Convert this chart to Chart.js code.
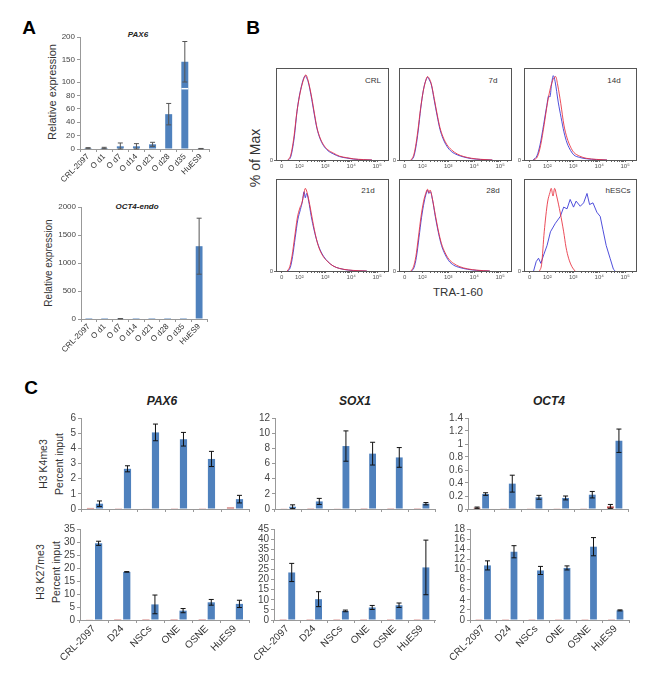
<!DOCTYPE html>
<html><head><meta charset="utf-8">
<script src="https://cdn.jsdelivr.net/npm/chart.js@4.4.0/dist/chart.umd.min.js"></script>
<style>
body{margin:0;background:#fff;width:666px;height:673px;position:relative;overflow:hidden;font-family:'Liberation Sans',Arial,sans-serif;}
.c{position:absolute;}
.t{position:absolute;white-space:nowrap;transform:translate(-50%,-50%);color:#222;line-height:1;}
.r{transform:translate(-50%,-50%) rotate(-90deg);}
.bi{font-weight:bold;font-style:italic;}
.L{font-weight:bold;font-size:19px;color:#000;}
</style></head><body>
<div class="t L" style="left:29px;top:27px">A</div>
<div class="t L" style="left:253px;top:27px">B</div>
<div class="t L" style="left:31px;top:387px">C</div>

<div class="t bi" style="left:138px;top:35px;font-size:8px">PAX6</div>
<div class="t bi" style="left:137px;top:207px;font-size:8px">OCT4-endo</div>
<div class="t r" style="left:52px;top:92px;font-size:11px;color:#333">Relative expression</div>
<div class="t r" style="left:49px;top:263px;font-size:10px;color:#333">Relative expression</div>

<div class="t r" style="left:255px;top:158px;font-size:14px;color:#333">% of Max</div>
<div class="t" style="left:458px;top:293px;font-size:11.5px;color:#333">TRA-1-60</div>
<div class="t" style="left:373px;top:81px;font-size:8px;color:#333">CRL</div>
<div class="t" style="left:493px;top:81px;font-size:8px;color:#333">7d</div>
<div class="t" style="left:614px;top:81px;font-size:8px;color:#333">14d</div>
<div class="t" style="left:368px;top:191px;font-size:8px;color:#333">21d</div>
<div class="t" style="left:493px;top:191px;font-size:8px;color:#333">28d</div>
<div class="t" style="left:618px;top:191px;font-size:8px;color:#333">hESCs</div>

<div class="t bi" style="left:162px;top:401px;font-size:12px">PAX6</div>
<div class="t bi" style="left:355px;top:401px;font-size:12px">SOX1</div>
<div class="t bi" style="left:549px;top:401px;font-size:12px">OCT4</div>
<div class="t r" style="left:43px;top:464px;font-size:10.5px;color:#333">H3 K4me3</div>
<div class="t r" style="left:59px;top:464px;font-size:10.5px;color:#333">Percent input</div>
<div class="t r" style="left:40px;top:572px;font-size:10.5px;color:#333">H3 K27me3</div>
<div class="t r" style="left:56px;top:572px;font-size:10.5px;color:#333">Percent input</div>

<script>
// ---------- Panel A data ----------
const aCategories = ['CRL-2097','O d1','O d7','O d14','O d21','O d28','O d35','HuES9'];
const aPax6Values = [1.5, 1.5, 4, 4, 7, 52, 145, 0.5];
const aPax6Errors = [0.5, 1, 5, 4, 3, 16, 45, 0.3];
const aPax6Ticks  = [0, 20, 40, 60, 80, 100, 150, 200];
const aOct4Values = [1, 1, 5, 1, 1, 1, 1, 1300];
const aOct4Errors = [0, 0, 3, 0, 0, 0, 0, 500];
const aOct4Ticks  = [0, 500, 1000, 1500, 2000];

// ---------- Panel B data (x = position in decades, y = % of max) ----------
const flowTickLabels = ['0','10²','10³','10⁴','10⁵'];
const flowTickPos = [1.32, 2, 3, 4, 5];
const crlRed  = [[1.55,0],[1.65,4],[1.72,13],[1.8,29],[1.9,55],[2.0,74],[2.1,88],[2.18,96],[2.25,100],[2.34,93],[2.48,73],[2.58,55],[2.68,38],[2.8,26],[2.93,18],[3.1,12],[3.32,8],[3.55,4.5],[3.83,2.7],[4.1,1.3],[4.47,0.5],[4.8,0]];
const crlBlue = [[1.57,0],[1.66,3],[1.73,12],[1.81,28],[1.91,57],[2.0,75],[2.1,89],[2.18,97],[2.24,99],[2.27,97],[2.34,92],[2.48,71],[2.58,53],[2.68,37],[2.8,25],[2.93,17],[3.1,11],[3.32,7],[3.55,4],[3.83,2.3],[4.1,1],[4.47,0.3],[4.8,0]];
const d7Red   = [[1.56,0],[1.66,5],[1.74,16],[1.83,35],[1.93,60],[2.03,80],[2.12,92],[2.2,98],[2.26,96],[2.34,90],[2.46,72],[2.57,54],[2.68,38],[2.8,27],[2.95,18],[3.12,12],[3.35,7],[3.6,4],[3.9,2],[4.25,0.8],[4.7,0]];
const d7Blue  = [[1.58,0],[1.67,4],[1.75,15],[1.84,34],[1.94,61],[2.04,82],[2.13,93],[2.21,97],[2.27,94],[2.35,88],[2.46,70],[2.57,52],[2.68,36],[2.8,25],[2.95,16],[3.12,10],[3.35,6],[3.6,3.5],[3.9,1.6],[4.25,0.6],[4.7,0]];
const d14Red  = [[1.47,0],[1.62,4],[1.74,17],[1.88,42],[2.0,66],[2.1,82],[2.2,93],[2.27,97],[2.32,98],[2.4,88],[2.52,66],[2.64,41],[2.76,26],[2.9,15],[3.02,9],[3.25,4.5],[3.5,2],[3.9,0.7],[4.3,0]];
const d14Blue = [[1.45,0],[1.6,5],[1.72,18],[1.86,42],[1.98,64],[2.05,75],[2.1,74],[2.16,88],[2.23,99],[2.3,92],[2.42,68],[2.53,50],[2.64,33],[2.76,20],[2.9,11],[3.02,6],[3.25,3],[3.5,1.5],[3.9,0.5],[4.3,0]];
const d21Red  = [[1.53,0],[1.63,5],[1.72,18],[1.82,40],[1.92,62],[2.02,74],[2.1,80],[2.17,90],[2.23,97],[2.3,92],[2.4,78],[2.52,58],[2.64,40],[2.76,27],[2.9,18],[3.06,12],[3.3,6],[3.55,3],[3.9,1.2],[4.3,0.3],[4.6,0]];
const d21Blue = [[1.55,0],[1.65,4],[1.74,17],[1.84,39],[1.94,60],[2.04,72],[2.12,82],[2.18,93],[2.23,86],[2.28,91],[2.36,82],[2.46,64],[2.57,48],[2.68,35],[2.8,25],[2.94,17],[3.1,11],[3.3,6],[3.55,3],[3.9,1],[4.3,0.2],[4.6,0]];
const d28Red  = [[1.56,0],[1.66,5],[1.75,17],[1.85,40],[1.95,64],[2.05,82],[2.13,91],[2.2,96],[2.25,92],[2.3,95],[2.38,86],[2.5,66],[2.62,47],[2.74,32],[2.87,22],[3.02,14],[3.2,9],[3.45,5],[3.75,2.5],[4.1,1],[4.6,0]];
const d28Blue = [[1.58,0],[1.68,4],[1.77,16],[1.87,39],[1.97,63],[2.07,81],[2.14,90],[2.2,95],[2.25,91],[2.31,93],[2.39,84],[2.5,64],[2.62,45],[2.74,30],[2.87,20],[3.02,12],[3.2,7],[3.45,4],[3.75,2],[4.1,0.7],[4.6,0]];
const hescRed  = [[1.7,0],[1.78,8],[1.88,46],[2.01,81],[2.1,92],[2.15,97],[2.22,88],[2.28,97],[2.36,88],[2.5,68],[2.63,46],[2.72,28],[2.82,15],[2.95,5],[3.07,0]];
const hescBlue = [[1.47,0],[1.57,11],[1.66,15],[1.75,9],[1.86,19],[1.99,30],[2.12,46],[2.31,56],[2.5,64],[2.63,75],[2.76,73],[2.88,84],[3.01,75],[3.11,82],[3.27,76],[3.4,80],[3.53,91],[3.63,78],[3.76,80],[3.91,69],[4.04,64],[4.14,49],[4.27,30],[4.42,15],[4.55,2],[4.62,0]];

// ---------- Panel C data ----------
const cCategories = ['CRL-2097','D24','NSCs','ONE','OSNE','HuES9'];
const pax6K4Ctrl  = [0.07, 0.02, 0.03, 0.02, 0.02, 0.1];
const pax6K4Vals  = [0.35, 2.65, 5.05, 4.6, 3.3, 0.65];
const pax6K4Errs  = [0.18, 0.2, 0.55, 0.45, 0.5, 0.25];
const pax6K4Ticks = [0, 1, 2, 3, 4, 5, 6];
const sox1K4Ctrl  = [0.05, 0.03, 0.05, 0.03, 0.03, 0.03];
const sox1K4Vals  = [0.3, 1.0, 8.3, 7.3, 6.8, 0.7];
const sox1K4Errs  = [0.25, 0.4, 2.0, 1.5, 1.3, 0.15];
const sox1K4Ticks = [0, 2, 4, 6, 8, 10, 12];
const oct4K4Ctrl  = [0.02, 0.01, 0.01, 0.01, 0.005, 0.04];
const oct4K4CtrlErrs = [0.01, 0, 0, 0, 0, 0.03];
const oct4K4Vals  = [0.23, 0.39, 0.18, 0.17, 0.22, 1.05];
const oct4K4Errs  = [0.02, 0.13, 0.03, 0.03, 0.05, 0.18];
const oct4K4Ticks = [0, 0.2, 0.4, 0.6, 0.8, 1, 1.2, 1.4];
const pax6K27Ctrl = [0.15, 0.05, 0.05, 0.05, 0.05, 0.2];
const pax6K27Vals = [29.5, 18.5, 6, 3.6, 6.8, 6.2];
const pax6K27Errs = [0.8, 0.1, 3.6, 0.8, 1.1, 1.4];
const pax6K27Ticks = [0, 5, 10, 15, 20, 25, 30, 35];
const sox1K27Ctrl = [0.1, 0.1, 0.1, 0.1, 0.1, 0.1];
const sox1K27Vals = [23.5, 10.3, 4.5, 6.2, 7.3, 26];
const sox1K27Errs = [4.5, 3.7, 0.4, 1.0, 1.1, 13.5];
const sox1K27Ticks = [0, 5, 10, 15, 20, 25, 30, 35, 40, 45];
const oct4K27Ctrl = [0.05, 0.05, 0.05, 0.05, 0.05, 0.15];
const oct4K27Vals = [10.8, 13.5, 9.8, 10.3, 14.5, 1.9];
const oct4K27Errs = [0.9, 1.2, 0.8, 0.4, 1.8, 0.1];
const oct4K27Ticks = [0, 2, 4, 6, 8, 10, 12, 14, 16, 18];

// ---------- styling ----------
const BLUE = '#4F81BD', RED = '#C0504D';
const FRED = 'rgba(232,45,60,0.85)', FBLUE = 'rgba(60,60,215,0.9)';
Chart.defaults.font.family = "'Liberation Sans', Arial, sans-serif";
Chart.defaults.color = '#444';
Chart.defaults.animation = false;

const errorBars = {
  id: 'errorBars',
  afterDatasetsDraw(chart, args, opts) {
    const ctx = chart.ctx, y = chart.scales.y;
    chart.data.datasets.forEach((ds, di) => {
      if (!ds.errHi) return;
      const meta = chart.getDatasetMeta(di);
      ctx.save();
      ctx.strokeStyle = opts.color || '#222';
      ctx.lineWidth = opts.width || 1;
      const c = opts.cap || 2.5;
      meta.data.forEach((bar, i) => {
        if (!ds.hasErr[i]) return;
        const x = bar.x, yh = y.getPixelForValue(ds.errHi[i]), yl = y.getPixelForValue(ds.errLo[i]);
        ctx.beginPath();
        ctx.moveTo(x, yh); ctx.lineTo(x, yl);
        ctx.moveTo(x - c, yh); ctx.lineTo(x + c, yh);
        ctx.moveTo(x - c, yl); ctx.lineTo(x + c, yl);
        ctx.stroke();
      });
      ctx.restore();
    });
    if (opts.breakAt != null) {
      const meta = chart.getDatasetMeta(0);
      const ds = chart.data.datasets[0];
      ctx.save(); ctx.strokeStyle = '#fff'; ctx.lineWidth = 1.5;
      meta.data.forEach((bar, i) => {
        if (ds.data[i] > opts.breakAt) {
          const yy = y.getPixelForValue(opts.breakAt);
          ctx.beginPath(); ctx.moveTo(bar.x - bar.width/2, yy); ctx.lineTo(bar.x + bar.width/2, yy); ctx.stroke();
        }
      });
      ctx.restore();
    }
  }
};

const frame = {
  id: 'frame',
  afterDraw(chart) {
    const a = chart.chartArea, ctx = chart.ctx;
    ctx.save(); ctx.strokeStyle = '#555'; ctx.lineWidth = 1;
    ctx.strokeRect(Math.round(a.left) + 0.5, Math.round(a.top) + 0.5, Math.round(a.right - a.left), Math.round(a.bottom - a.top));
    ctx.restore();
  }
};

function mount(area, pad) {
  const d = document.createElement('div'); d.className = 'c';
  const w = area.r - area.l + pad.l + pad.r, h = area.b - area.t + pad.t + pad.b;
  d.style.left = (area.l - pad.l) + 'px'; d.style.top = (area.t - pad.t) + 'px';
  d.style.width = w + 'px'; d.style.height = h + 'px';
  const c = document.createElement('canvas');
  c.width = w; c.height = h; c.style.width = w + 'px'; c.style.height = h + 'px';
  d.appendChild(c); document.body.appendChild(d);
  return c;
}

function errDs(label, vals, errs, color, tf) {
  const f = tf || (v => v);
  return {
    label, data: vals.map(f), backgroundColor: color, borderWidth: 0,
    hasErr: errs.map(e => e > 0),
    errHi: vals.map((v, i) => f(v + errs[i])),
    errLo: vals.map((v, i) => f(Math.max(0, v - errs[i])))
  };
}

function barChart(area, pad, cfg) {
  const canvas = mount(area, pad);
  const labels = cfg.yLabels || cfg.yTicks;
  return new Chart(canvas, {
    type: 'bar',
    data: { labels: cfg.labels, datasets: cfg.datasets },
    options: {
      responsive: false, animation: false,
      categoryPercentage: cfg.cp, barPercentage: cfg.bp,
      layout: { padding: { left: 0, right: pad.r, top: pad.t, bottom: 0 } },
      plugins: { legend: { display: false }, tooltip: { enabled: false }, errorBars: cfg.err },
      scales: {
        x: {
          grid: { display: true, drawOnChartArea: false, drawTicks: true, tickLength: 3, color: '#999', offset: true },
          border: { display: true, color: '#999' },
          ticks: { display: cfg.showX, font: { size: cfg.xFont }, color: '#333', minRotation: 45, maxRotation: 45, autoSkip: false, padding: 0 },
          afterFit: s => { s.height = pad.b; s.paddingLeft = 0; s.paddingRight = 0; }
        },
        y: {
          min: 0, max: cfg.yMax,
          afterBuildTicks: s => { s.ticks = cfg.yTicks.map(v => ({ value: v })); },
          grid: { drawOnChartArea: false, drawTicks: true, tickLength: 3, color: '#999' },
          border: { display: true, color: '#999' },
          ticks: { font: { size: cfg.yFont }, color: '#444', padding: 2, autoSkip: false, callback: (v, i) => String(labels[i]) },
          afterFit: s => { s.width = pad.l; s.paddingTop = 0; s.paddingBottom = 0; }
        }
      }
    },
    plugins: [errorBars]
  });
}

// ---------- Panel A ----------
const K = 45 / 67;
const tA = v => v <= 100 ? v : 100 + (v - 100) * K;
barChart({ l: 80, r: 209, t: 37, b: 149 }, { l: 30, r: 4, t: 6, b: 34 }, {
  labels: aCategories,
  datasets: [errDs('PAX6', aPax6Values, aPax6Errors, BLUE, tA)],
  yMax: tA(200), yTicks: aPax6Ticks.map(tA), yLabels: aPax6Ticks,
  yFont: 8, xFont: 8, showX: true, cp: 0.8, bp: 0.54,
  err: { color: '#555', cap: 2.5, breakAt: 90 }
});
barChart({ l: 81, r: 207, t: 207, b: 319 }, { l: 32, r: 4, t: 6, b: 34 }, {
  labels: aCategories,
  datasets: [errDs('OCT4-endo', aOct4Values, aOct4Errors, BLUE)],
  yMax: 2000, yTicks: aOct4Ticks,
  yFont: 8, xFont: 8, showX: true, cp: 0.8, bp: 0.54,
  err: { color: '#555', cap: 2.5 }
});

// ---------- Panel B ----------
const flowMinor = [];
for (let d = 2; d <= 5; d++) for (let m = 2; m <= 9; m++) { const v = d + Math.log10(m); if (v < 5.42) flowMinor.push(v); }
const flowLabelMap = new Map(flowTickPos.map((p, i) => [p, flowTickLabels[i]]));
function flowChart(area, red, blue, jag) {
  const pad = { l: 10, r: 2, t: 2, b: 12 };
  const canvas = mount(area, pad);
  const mk = (pts, col, t) => ({ data: pts.map(p => ({ x: p[0], y: p[1] })), showLine: true, borderColor: col, borderWidth: 1, pointRadius: 0, tension: t, cubicInterpolationMode: t ? 'monotone' : 'default' });
  new Chart(canvas, {
    type: 'scatter',
    data: { datasets: [mk(red, FRED, 0.3), mk(blue, FBLUE, jag ? 0 : 0.3)] },
    options: {
      responsive: false, animation: false,
      layout: { padding: { left: 0, right: pad.r, top: pad.t, bottom: 0 } },
      plugins: { legend: { display: false }, tooltip: { enabled: false } },
      scales: {
        x: {
          type: 'linear', min: 1.1, max: 5.42,
          afterBuildTicks: s => { s.ticks = flowTickPos.concat(flowMinor).sort((a, b) => a - b).map(v => ({ value: v })); },
          ticks: { font: { size: 6 }, color: '#555', maxRotation: 0, autoSkip: false, padding: 1, callback: v => flowLabelMap.has(v) ? flowLabelMap.get(v) : '' },
          grid: { drawOnChartArea: false, drawTicks: true, tickLength: 2, color: '#666' },
          border: { display: false },
          afterFit: s => { s.height = pad.b; s.paddingLeft = 0; s.paddingRight = 0; }
        },
        y: {
          min: 0, max: 108,
          afterBuildTicks: s => { s.ticks = [{ value: 0 }]; },
          ticks: { font: { size: 6 }, color: '#555', padding: 1, callback: () => '0' },
          grid: { drawOnChartArea: false, drawTicks: true, tickLength: 2, color: '#666' },
          border: { display: false },
          afterFit: s => { s.width = pad.l; s.paddingTop = 0; s.paddingBottom = 0; }
        }
      }
    },
    plugins: [frame]
  });
}
const bCols = [276, 399, 524], bRows = [68, 179];
const box = (c, r) => ({ l: bCols[c], r: bCols[c] + 112, t: bRows[r], b: bRows[r] + 92 });
flowChart(box(0, 0), crlRed, crlBlue);
flowChart(box(1, 0), d7Red, d7Blue);
flowChart(box(2, 0), d14Red, d14Blue);
flowChart(box(0, 1), d21Red, d21Blue);
flowChart(box(1, 1), d28Red, d28Blue);
flowChart(box(2, 1), hescRed, hescBlue, true);

// ---------- Panel C ----------
function cChart(area, showX, ctrl, ctrlErr, vals, errs, ticks) {
  const pad = showX ? { l: 30, r: 6, t: 7, b: 50 } : { l: 30, r: 6, t: 7, b: 6 };
  barChart(area, pad, {
    labels: cCategories,
    datasets: [errDs('Control', ctrl, ctrlErr || ctrl.map(() => 0), RED), errDs('Target', vals, errs, BLUE)],
    yMax: ticks[ticks.length - 1], yTicks: ticks, yFont: 10, xFont: 10, showX, cp: 0.64, bp: 0.8,
    err: { color: '#111', cap: 2.5 }
  });
}
cChart({ l: 81, r: 249, t: 418, b: 509 }, false, pax6K4Ctrl, null, pax6K4Vals, pax6K4Errs, pax6K4Ticks);
cChart({ l: 275, r: 435, t: 418, b: 509 }, false, sox1K4Ctrl, null, sox1K4Vals, sox1K4Errs, sox1K4Ticks);
cChart({ l: 468, r: 628, t: 418, b: 509 }, false, oct4K4Ctrl, oct4K4CtrlErrs, oct4K4Vals, oct4K4Errs, oct4K4Ticks);
cChart({ l: 80, r: 249, t: 529, b: 620 }, true, pax6K27Ctrl, null, pax6K27Vals, pax6K27Errs, pax6K27Ticks);
cChart({ l: 274, r: 435, t: 529, b: 620 }, true, sox1K27Ctrl, null, sox1K27Vals, sox1K27Errs, sox1K27Ticks);
cChart({ l: 470, r: 629, t: 529, b: 620 }, true, oct4K27Ctrl, null, oct4K27Vals, oct4K27Errs, oct4K27Ticks);
</script>
</body></html>
